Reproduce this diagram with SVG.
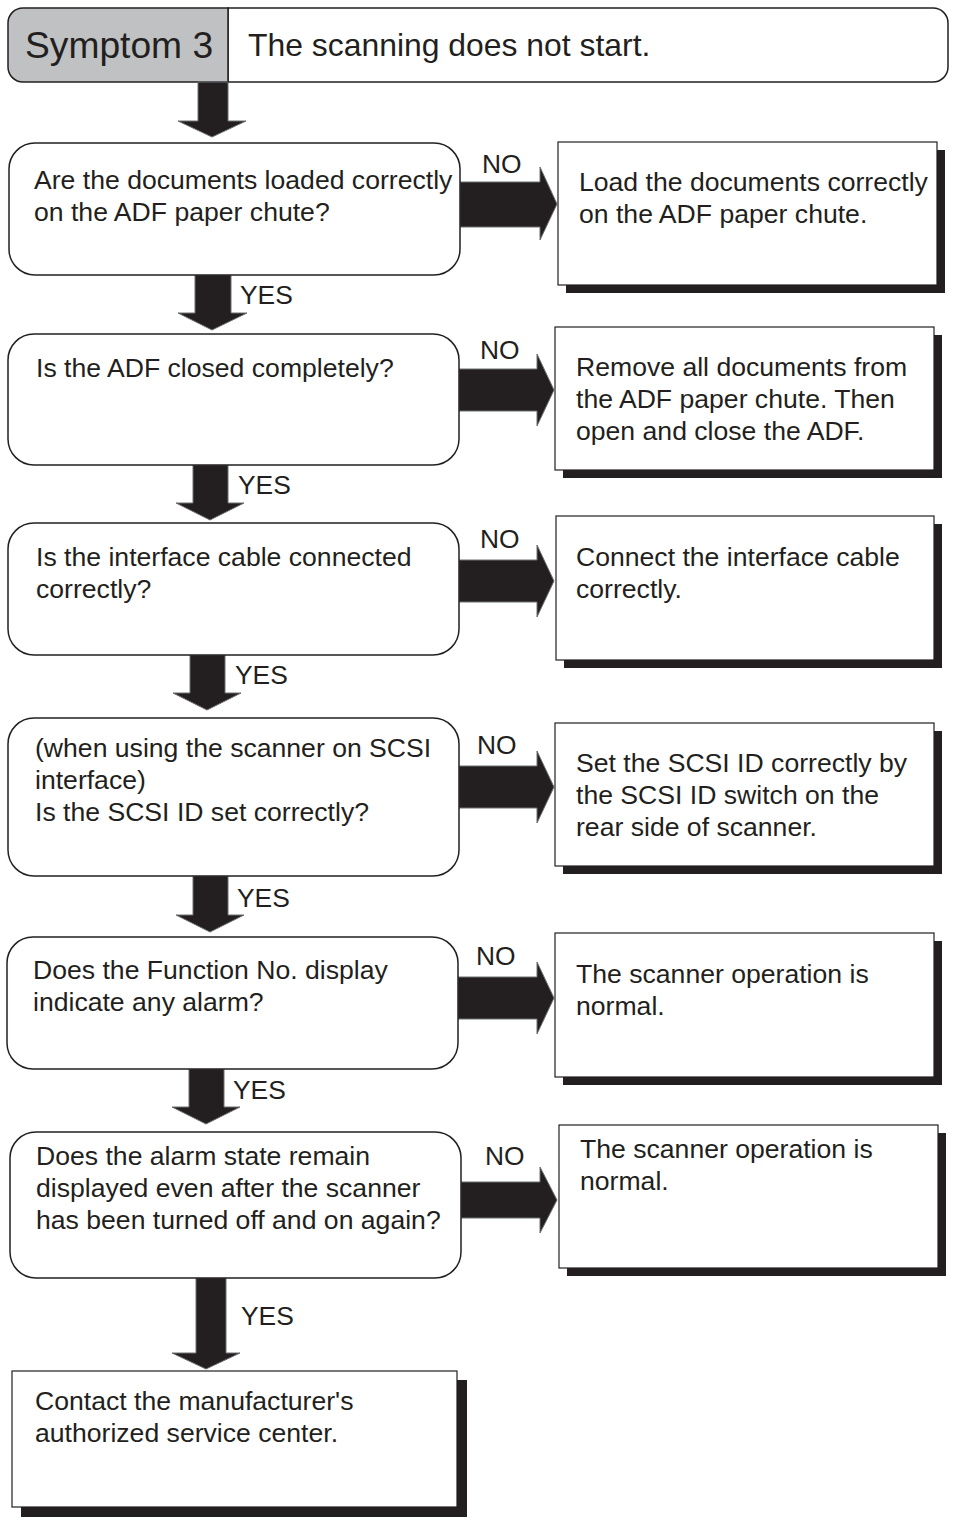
<svg xmlns="http://www.w3.org/2000/svg" width="953" height="1520" viewBox="0 0 953 1520">
<style>
text{font-family:"Liberation Sans",Arial,sans-serif;fill:#231f20}
.t{font-size:26.6px}
.lbl{font-size:26.4px}
.dec{fill:#fff;stroke:#231f20;stroke-width:1.5}
.box{fill:#fff;stroke:#231f20;stroke-width:1.2}
.sh{fill:#231f20}
.arr{fill:#231f20;stroke:#6d6e71;stroke-width:1}
</style>
<rect width="953" height="1520" fill="#fff"/>
<g id="header">
<path d="M228,8 H933 a15,15 0 0 1 15,15 V67 a15,15 0 0 1 -15,15 H228 Z" fill="#fff" stroke="#231f20" stroke-width="1.5"/>
<path d="M228,8 H23 a15,15 0 0 0 -15,15 V67 a15,15 0 0 0 15,15 H228 Z" fill="#c0c1c3" stroke="#231f20" stroke-width="1.5"/>
<text x="25" y="58" style="font-size:37.2px">Symptom 3</text>
<text x="248" y="56" style="font-size:31.9px">The scanning does not start.</text>
</g>
<g id="connectors">
<path class="arr" d="M198,82 H228 V121 H246 L212,137 L178,121 H198 Z"/>
<path class="arr" d="M195,275 H231 V313 H247 L212,330 L178,313 H195 Z"/>
<path class="arr" d="M193,465 H228 V503 H244 L210,520 L176,503 H193 Z"/>
<path class="arr" d="M190,655 H225 V693 H241 L207,710 L173,693 H190 Z"/>
<path class="arr" d="M193,876 H228 V915 H244 L210,932 L176,915 H193 Z"/>
<path class="arr" d="M189,1069 H224 V1107 H240 L206,1124 L172,1107 H189 Z"/>
<path class="arr" d="M196,1278 H226 V1353 H240 L206,1369 L172,1353 H196 Z"/>
<text class="lbl" x="240" y="304">YES</text>
<text class="lbl" x="238" y="494">YES</text>
<text class="lbl" x="235" y="684">YES</text>
<text class="lbl" x="237" y="907">YES</text>
<text class="lbl" x="233" y="1099">YES</text>
<text class="lbl" x="241" y="1325">YES</text>
<path class="arr" d="M460,182 H540 V167 L557,204 L540,240 V227 H460 Z"/>
<path class="arr" d="M459,369 H537 V354 L554,390 L537,426 V411 H459 Z"/>
<path class="arr" d="M459,560 H537 V545 L554,581 L537,617 V602 H459 Z"/>
<path class="arr" d="M459,766 H537 V751 L554,787 L537,823 V808 H459 Z"/>
<path class="arr" d="M458,977 H537 V962 L554,998 L537,1034 V1019 H458 Z"/>
<path class="arr" d="M461,1182 H540 V1167 L557,1200 L540,1233 V1218 H461 Z"/>
<text class="lbl" x="482" y="173">NO</text>
<text class="lbl" x="480" y="359">NO</text>
<text class="lbl" x="480" y="548">NO</text>
<text class="lbl" x="477" y="754">NO</text>
<text class="lbl" x="476" y="965">NO</text>
<text class="lbl" x="485" y="1165">NO</text>
</g>
<g id="q1">
<rect class="dec" x="9" y="143" width="451" height="132" rx="26"/>
<text class="t" x="34" y="189">Are the documents loaded correctly</text>
<text class="t" x="34" y="221">on the ADF paper chute?</text>
</g>
<g id="a1">
<rect class="sh" x="566" y="150" width="379" height="143"/>
<rect class="box" x="558" y="142" width="379" height="143"/>
<text class="t" x="579" y="191">Load the documents correctly</text>
<text class="t" x="579" y="223">on the ADF paper chute.</text>
</g>
<g id="q2">
<rect class="dec" x="8" y="334" width="451" height="131" rx="26"/>
<text class="t" x="36" y="377">Is the ADF closed completely?</text>
</g>
<g id="a2">
<rect class="sh" x="563" y="335" width="379" height="143"/>
<rect class="box" x="555" y="327" width="379" height="143"/>
<text class="t" x="576" y="376">Remove all documents from</text>
<text class="t" x="576" y="408">the ADF paper chute. Then</text>
<text class="t" x="576" y="440">open and close the ADF.</text>
</g>
<g id="q3">
<rect class="dec" x="8" y="523" width="451" height="132" rx="26"/>
<text class="t" x="36" y="566">Is the interface cable connected</text>
<text class="t" x="36" y="598">correctly?</text>
</g>
<g id="a3">
<rect class="sh" x="564" y="524" width="378" height="144"/>
<rect class="box" x="556" y="516" width="378" height="144"/>
<text class="t" x="576" y="566">Connect the interface cable</text>
<text class="t" x="576" y="598">correctly.</text>
</g>
<g id="q4">
<rect class="dec" x="8" y="718" width="451" height="158" rx="26"/>
<text class="t" x="35" y="757">(when using the scanner on SCSI</text>
<text class="t" x="35" y="789">interface)</text>
<text class="t" x="35" y="821">Is the SCSI ID set correctly?</text>
</g>
<g id="a4">
<rect class="sh" x="563" y="731" width="379" height="143"/>
<rect class="box" x="555" y="723" width="379" height="143"/>
<text class="t" x="576" y="772">Set the SCSI ID correctly by</text>
<text class="t" x="576" y="804">the SCSI ID switch on the</text>
<text class="t" x="576" y="836">rear side of scanner.</text>
</g>
<g id="q5">
<rect class="dec" x="7" y="937" width="451" height="132" rx="26"/>
<text class="t" x="33" y="979">Does the Function No. display</text>
<text class="t" x="33" y="1011">indicate any alarm?</text>
</g>
<g id="a5">
<rect class="sh" x="563" y="941" width="379" height="144"/>
<rect class="box" x="555" y="933" width="379" height="144"/>
<text class="t" x="576" y="983">The scanner operation is</text>
<text class="t" x="576" y="1015">normal.</text>
</g>
<g id="q6">
<rect class="dec" x="10" y="1132" width="451" height="146" rx="26"/>
<text class="t" x="36" y="1165">Does the alarm state remain</text>
<text class="t" x="36" y="1197">displayed even after the scanner</text>
<text class="t" x="36" y="1229">has been turned off and on again?</text>
</g>
<g id="a6">
<rect class="sh" x="567" y="1133" width="379" height="143"/>
<rect class="box" x="559" y="1125" width="379" height="143"/>
<text class="t" x="580" y="1158">The scanner operation is</text>
<text class="t" x="580" y="1190">normal.</text>
</g>
<g id="final">
<rect class="sh" x="21" y="1380" width="446" height="137"/>
<rect class="box" x="12" y="1371" width="445" height="136"/>
<text class="t" x="35" y="1410">Contact the manufacturer's</text>
<text class="t" x="35" y="1442">authorized service center.</text>
</g>
</svg>
